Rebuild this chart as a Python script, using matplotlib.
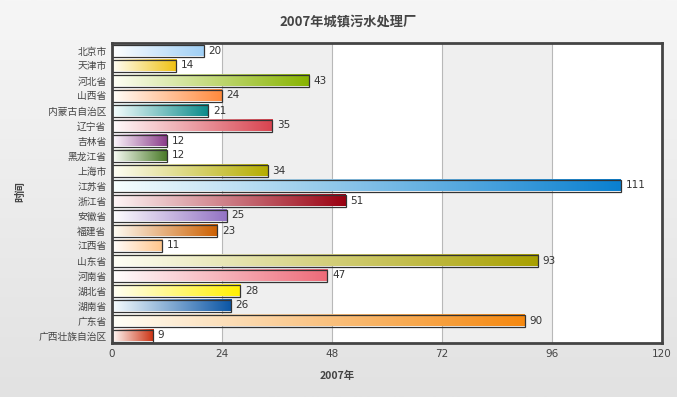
import matplotlib
matplotlib.use("Agg")
import matplotlib.pyplot as plt
import numpy as np
from matplotlib.colors import LinearSegmentedColormap, to_rgb
from matplotlib.patches import Rectangle

plt.rcParams['font.family'] = ['Noto Sans CJK SC', 'DejaVu Sans']

# Chart data
provinces = ["北京市", "天津市", "河北省", "山西省", "内蒙古自治区", "辽宁省", "吉林省",
             "黑龙江省", "上海市", "江苏省", "浙江省", "安徽省", "福建省", "江西省",
             "山东省", "河南省", "湖北省", "湖南省", "广东省", "广西壮族自治区"]
plants = [20, 14, 43, 24, 21, 35, 12, 12, 34, 111, 51, 25, 23, 11, 93, 47, 28, 26, 90, 9]
bar_colors = ["#9fcff5", "#f0c010", "#88b400", "#ff8a3d", "#0a8a8a", "#d9434f", "#8a3d8a",
              "#4a7a28", "#b5ad00", "#0a80d0", "#9a0010", "#9373c4", "#cc5f00", "#ffc58a",
              "#a8a000", "#ee6a78", "#fff000", "#0a55a5", "#f5880f", "#cc3010"]
x_ticks = [0, 24, 48, 72, 96, 120]

W, H = 677, 397
fig = plt.figure(figsize=(W / 100, H / 100), dpi=100)

# Background gradient
bg = fig.add_axes([0, 0, 1, 1], zorder=-10)
grad = np.linspace(0, 1, 256).reshape(-1, 1)
bg_cmap = LinearSegmentedColormap.from_list("bg", ["#f6f6f6", "#e2e2e2"])
bg.imshow(grad, aspect="auto", cmap=bg_cmap, extent=[0, 1, 0, 1], origin="upper")
bg.set_axis_off()

ax = fig.add_axes([112 / W, 1 - 343 / H, 550 / W, 300 / H])
n = len(provinces)
ax.set_xlim(0, 120)
ax.set_ylim(n - 0.5, -0.5)

# Alternating bands and gridlines
for i in range(len(x_ticks) - 1):
    c = "white" if i % 2 == 0 else "#efefef"
    ax.axvspan(x_ticks[i], x_ticks[i + 1], color=c, zorder=0, lw=0)
for t in x_ticks[1:-1]:
    ax.axvline(t, color="#b8b8b8", lw=0.8, zorder=1)

# Gradient bars
row = np.linspace(0, 1, 256).reshape(1, -1)
for i, (v, c) in enumerate(zip(plants, bar_colors)):
    rgb = np.array(to_rgb(c))
    start = 0.93 * np.ones(3) + 0.07 * rgb
    start = np.clip(start + 0.04, 0, 1)
    cmap = LinearSegmentedColormap.from_list(f"g{i}", [start, rgb])
    h = 0.8
    ax.imshow(row, aspect="auto", cmap=cmap, extent=[0, v, i + h / 2, i - h / 2],
              zorder=2, interpolation="bilinear")
    ax.add_patch(Rectangle((0, i - h / 2), v, h, fill=False, edgecolor="#333333",
                           lw=0.9, zorder=3))
    ax.text(v + 1, i, str(v), va="center", ha="left", fontsize=7.5,
            color="#333333", family="DejaVu Sans", zorder=4)

ax.set_xlim(0, 120)
ax.set_ylim(n - 0.5, -0.5)

ax.set_yticks(range(n))
ax.set_yticklabels(provinces, fontsize=7, color="#444444")
ax.set_xticks(x_ticks)
ax.set_xticklabels([str(t) for t in x_ticks], fontsize=7.5, color="#444444",
                   family="DejaVu Sans")
ax.tick_params(length=0, pad=4)

for sp in ax.spines.values():
    sp.set_color("#444444")
    sp.set_linewidth(2)
    sp.set_zorder(5)

fig.text(348 / W, 1 - 22 / H, "2007年城镇污水处理厂", ha="center", va="center",
         fontsize=9.5, fontweight="bold", color="#444444")
fig.text(337 / W, 1 - 376 / H, "2007年", ha="center", va="center",
         fontsize=7.5, fontweight="bold", color="#444444")
fig.text(20 / W, 1 - 192 / H, "时间", ha="center", va="center", rotation=90,
         fontsize=7.5, fontweight="bold", color="#444444")

fig.savefig("out.png", dpi=100)
